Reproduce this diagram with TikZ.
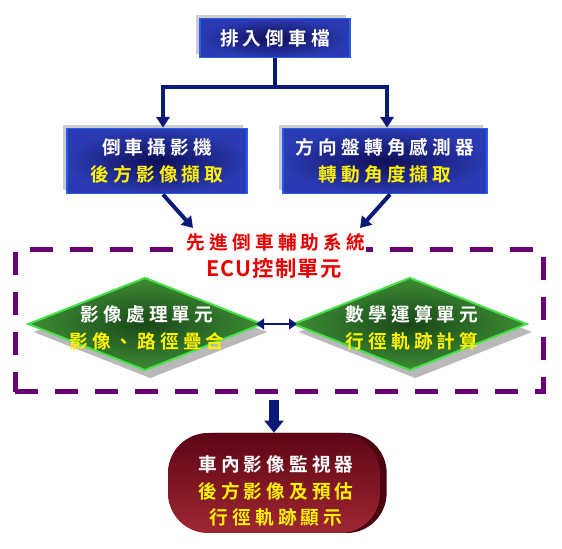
\documentclass[tikz,border=0pt]{standalone}
\usepackage{fontspec}
\setmainfont{Noto Sans CJK TC}
\newfontfamily\adasfont[LetterSpace=22,BoldFont={Noto Sans CJK TC Bold}]{Noto Sans CJK TC}
\newfontfamily\adasecu[LetterSpace=6,BoldFont={Noto Sans CJK TC Bold}]{Noto Sans CJK TC}
\usepackage{xcolor}
\definecolor{adas_navy}{RGB}{10, 25, 120}
\definecolor{adas_blue}{RGB}{35, 95, 235}
\definecolor{adas_deep}{RGB}{16, 16, 88}
\definecolor{adas_mid}{RGB}{42, 58, 178}
\definecolor{adas_green}{RGB}{70, 225, 70}
\definecolor{adas_leaf}{RGB}{24, 72, 24}
\definecolor{adas_lime}{RGB}{62, 140, 52}
\definecolor{adas_red}{RGB}{230, 0, 0}
\definecolor{adas_purple}{RGB}{105, 0, 115}
\definecolor{adas_wine}{RGB}{92, 6, 20}
\definecolor{adas_rose}{RGB}{160, 38, 52}
\usepackage{tikz}
\usetikzlibrary{arrows.meta, shapes.geometric, shadows, calc}

\begin{document}
\begin{tikzpicture}[x=0.75pt, y=-0.75pt,
    boxfont/.style={font=\adasfont\bfseries\fontsize{14}{20}\selectfont},
    inbox/.style={boxfont, rectangle, draw=adas_blue, line width=1.2pt,
      inner color=adas_deep, outer color=adas_mid, text=white, align=center,
      drop shadow={shadow xshift=-3pt, shadow yshift=2.5pt, fill=gray!45, opacity=0.9}},
    unitdiamond/.style={diamond, draw=adas_green, line width=1.5pt, inner sep=0pt,
      inner color=adas_leaf, outer color=adas_lime,
      minimum width=175.5pt, minimum height=69.75pt,
      drop shadow={shadow xshift=4pt, shadow yshift=-6pt, fill=gray!55, opacity=1}},
    unittext/.style={boxfont, text=white, align=center},
    ecubox/.style={draw=adas_purple, line width=3.75pt, dash pattern=on 17pt off 13pt},
    flowarrow/.style={draw=adas_navy, line width=3pt, -{Triangle[length=8pt, width=10pt]}},
    linkarrow/.style={draw=adas_navy, line width=2.2pt,
      {Triangle[length=6pt, width=8pt]}-{Triangle[length=6pt, width=8pt]}},
    bigarrow/.style={draw=adas_navy, line width=7.5pt, -{Triangle[length=9pt, width=14pt]}},
    monitor/.style={rectangle, rounded corners=30pt, top color=adas_wine, bottom color=adas_rose,
      minimum width=159pt, minimum height=75pt,
      drop shadow={shadow xshift=5pt, shadow yshift=0pt, fill=adas_wine!80!black, opacity=1}},
    hl/.style={text=yellow}]
  \useasboundingbox (0,0) rectangle (562,549);

  % Input : reverse gear
  \node[inbox, minimum width=112.5pt, minimum height=29pt] (gear) at (275,38) {排入倒車檔};

  % Sensors
  \node[inbox, minimum width=135pt, minimum height=49pt] (camera) at (157,161)
    {倒車攝影機\\\textcolor{yellow}{後方影像擷取}};
  \node[inbox, minimum width=153pt, minimum height=49pt] (steer) at (385,161)
    {方向盤轉角感測器\\\textcolor{yellow}{轉動角度擷取}};

  \coordinate (split) at (277,87);
  \draw[flowarrow] (gear.south) -- (gear.south |- split) -| ([xshift=4.5pt]camera.north);
  \draw[flowarrow] (gear.south |- split) -| ([xshift=1.5pt]steer.north);

  % ECU block
  \node[ecubox, minimum width=396pt, minimum height=106.5pt] (ecu) at (279,321) {};
  \node[boxfont, fill=white, text=adas_red, inner sep=1pt] (ecutitle) at (276,242) {先進倒車輔助系統};
  \node[font=\adasecu\bfseries\fontsize{16}{18}\selectfont, text=adas_red] (ecuname) at (274,268) {ECU控制單元};

  \coordinate (inleft) at (193,228);
  \coordinate (inright) at (360,228);
  \draw[flowarrow] ([xshift=4.5pt]camera.south) -- (inleft);
  \draw[flowarrow] ([xshift=3.75pt]steer.south) -- (inright);

  % Units
  \node[unitdiamond] (imgunit) at (145,324) {};
  \node[unitdiamond] (mathunit) at (410,324) {};
  \node[unittext] (imgtext) at (147,328) {影像處理單元\\\textcolor{yellow}{影像、路徑疊合}};
  \node[unittext] (mathtext) at (412,328) {數學運算單元\\\textcolor{yellow}{行徑軌跡計算}};
  \draw[linkarrow] ([xshift=-5.25pt]imgunit.east) -- ([xshift=3.75pt]mathunit.west);

  % Output : monitor
  \node[monitor] (monitor) at (274,483) {};
  \node[unittext] (montext) at (276,491)
    {車內影像監視器\\\textcolor{yellow}{後方影像及預估}\\\textcolor{yellow}{行徑軌跡顯示}};
  \draw[bigarrow] ([yshift=-4pt]monitor.north |- ecu.south) -- (monitor.north);
\end{tikzpicture}
\end{document}
